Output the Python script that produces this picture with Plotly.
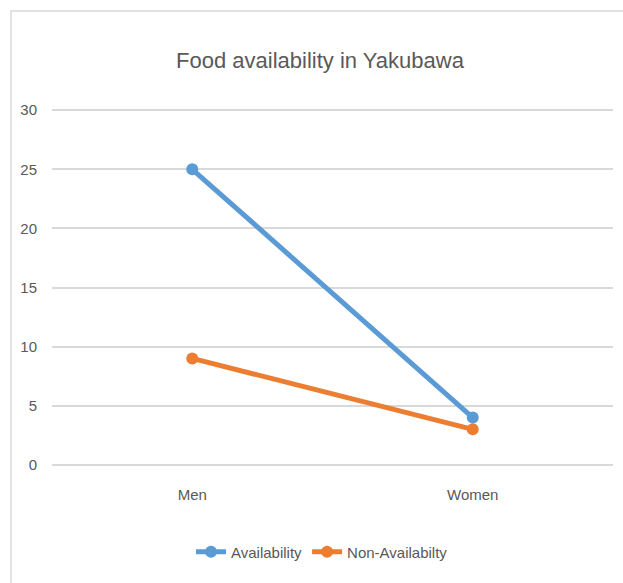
import plotly.graph_objects as go

categories = ["Men", "Women"]
availability = [25, 4]
non_availability = [9, 3]
y_ticks = [0, 5, 10, 15, 20, 25, 30]

FONT = "Liberation Sans, Arial, sans-serif"
W, H = 623, 583
L, R, T, B = 52, 10, 109, 117
pw, ph = W - L - R, H - T - B

fig = go.Figure()
fig.add_trace(go.Scatter(x=categories, y=availability, name="Availability",
                         mode="lines+markers",
                         line=dict(color="#5B9BD5", width=5),
                         marker=dict(color="#5B9BD5", size=12)))
fig.add_trace(go.Scatter(x=categories, y=non_availability, name="Non-Availabilty",
                         mode="lines+markers",
                         line=dict(color="#ED7D31", width=5),
                         marker=dict(color="#ED7D31", size=12)))

fig.update_layout(
    width=W, height=H,
    margin=dict(l=L, r=R, t=T, b=B),
    paper_bgcolor="white", plot_bgcolor="white",
    title=dict(text="Food availability in Yakubawa", x=320 / W, xanchor="center",
               y=1 - 60 / H, yanchor="middle",
               font=dict(family=FONT, size=22, color="#595959")),
    font=dict(family=FONT, color="#595959", size=15),
    xaxis=dict(type="category", range=[-0.5, 1.5], showgrid=False, showline=False,
               zeroline=False, ticks="", ticklabelstandoff=18,
               tickfont=dict(size=15, color="#595959")),
    yaxis=dict(range=[-0.1, 30.1], tickvals=y_ticks, showgrid=True, gridcolor="#D9D9D9",
               gridwidth=1.5, zeroline=True, zerolinecolor="#D9D9D9", zerolinewidth=1.5,
               showline=False, ticks="",
               ticklabelstandoff=14, tickfont=dict(size=15, color="#595959")),
    legend=dict(orientation="h", x=(322 - L) / pw, xanchor="center",
                y=(T + ph - 552) / ph, yanchor="middle",
                font=dict(size=15, color="#595959"), itemwidth=30),
    showlegend=True,
)

fig.add_shape(type="rect", xref="paper", yref="paper",
              x0=(11 - L) / pw, x1=1.2, y0=-0.5, y1=1 + (T - 11) / ph,
              line=dict(color="#D9D9D9", width=1.5), fillcolor="rgba(0,0,0,0)",
              layer="below")

fig.write_html("out.html", config={"displayModeBar": False},
               post_script="document.body.style.margin='0';")
